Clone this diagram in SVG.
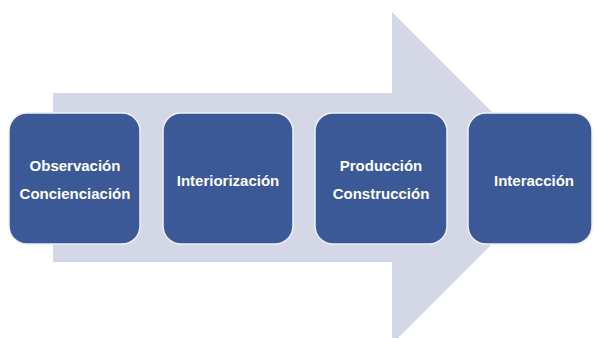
<svg xmlns="http://www.w3.org/2000/svg" width="597" height="338" viewBox="0 0 597 338">
<style>
.box{fill:#3B5897;stroke:#EEF0F6;stroke-width:1.5}
.t{font-family:"Liberation Sans",Arial,sans-serif;font-weight:bold;font-size:15px;fill:#FFFFFF;text-anchor:middle}
</style>
<rect x="0" y="0" width="597" height="338" fill="#FFFFFF"/>
<g id="connectors">
<polygon points="53,93 392,93 392,12 558,178 392,344 392,262 53,262" fill="#D4D7E6"/>
</g>
<g id="node1">
<rect class="box" x="9" y="113" width="131" height="131" rx="18"/>
<text class="t" x="75" y="171">Observación</text>
<text class="t" x="75" y="199">Concienciación</text>
</g>
<g id="node2">
<rect class="box" x="163" y="113" width="130" height="131" rx="18"/>
<text class="t" x="228" y="186">Interiorización</text>
</g>
<g id="node3">
<rect class="box" x="315" y="113" width="132" height="131" rx="18"/>
<text class="t" x="381" y="171">Producción</text>
<text class="t" x="381" y="199">Construcción</text>
</g>
<g id="node4">
<rect class="box" x="468" y="113" width="124" height="131" rx="18"/>
<text class="t" x="534" y="186">Interacción</text>
</g>
</svg>
